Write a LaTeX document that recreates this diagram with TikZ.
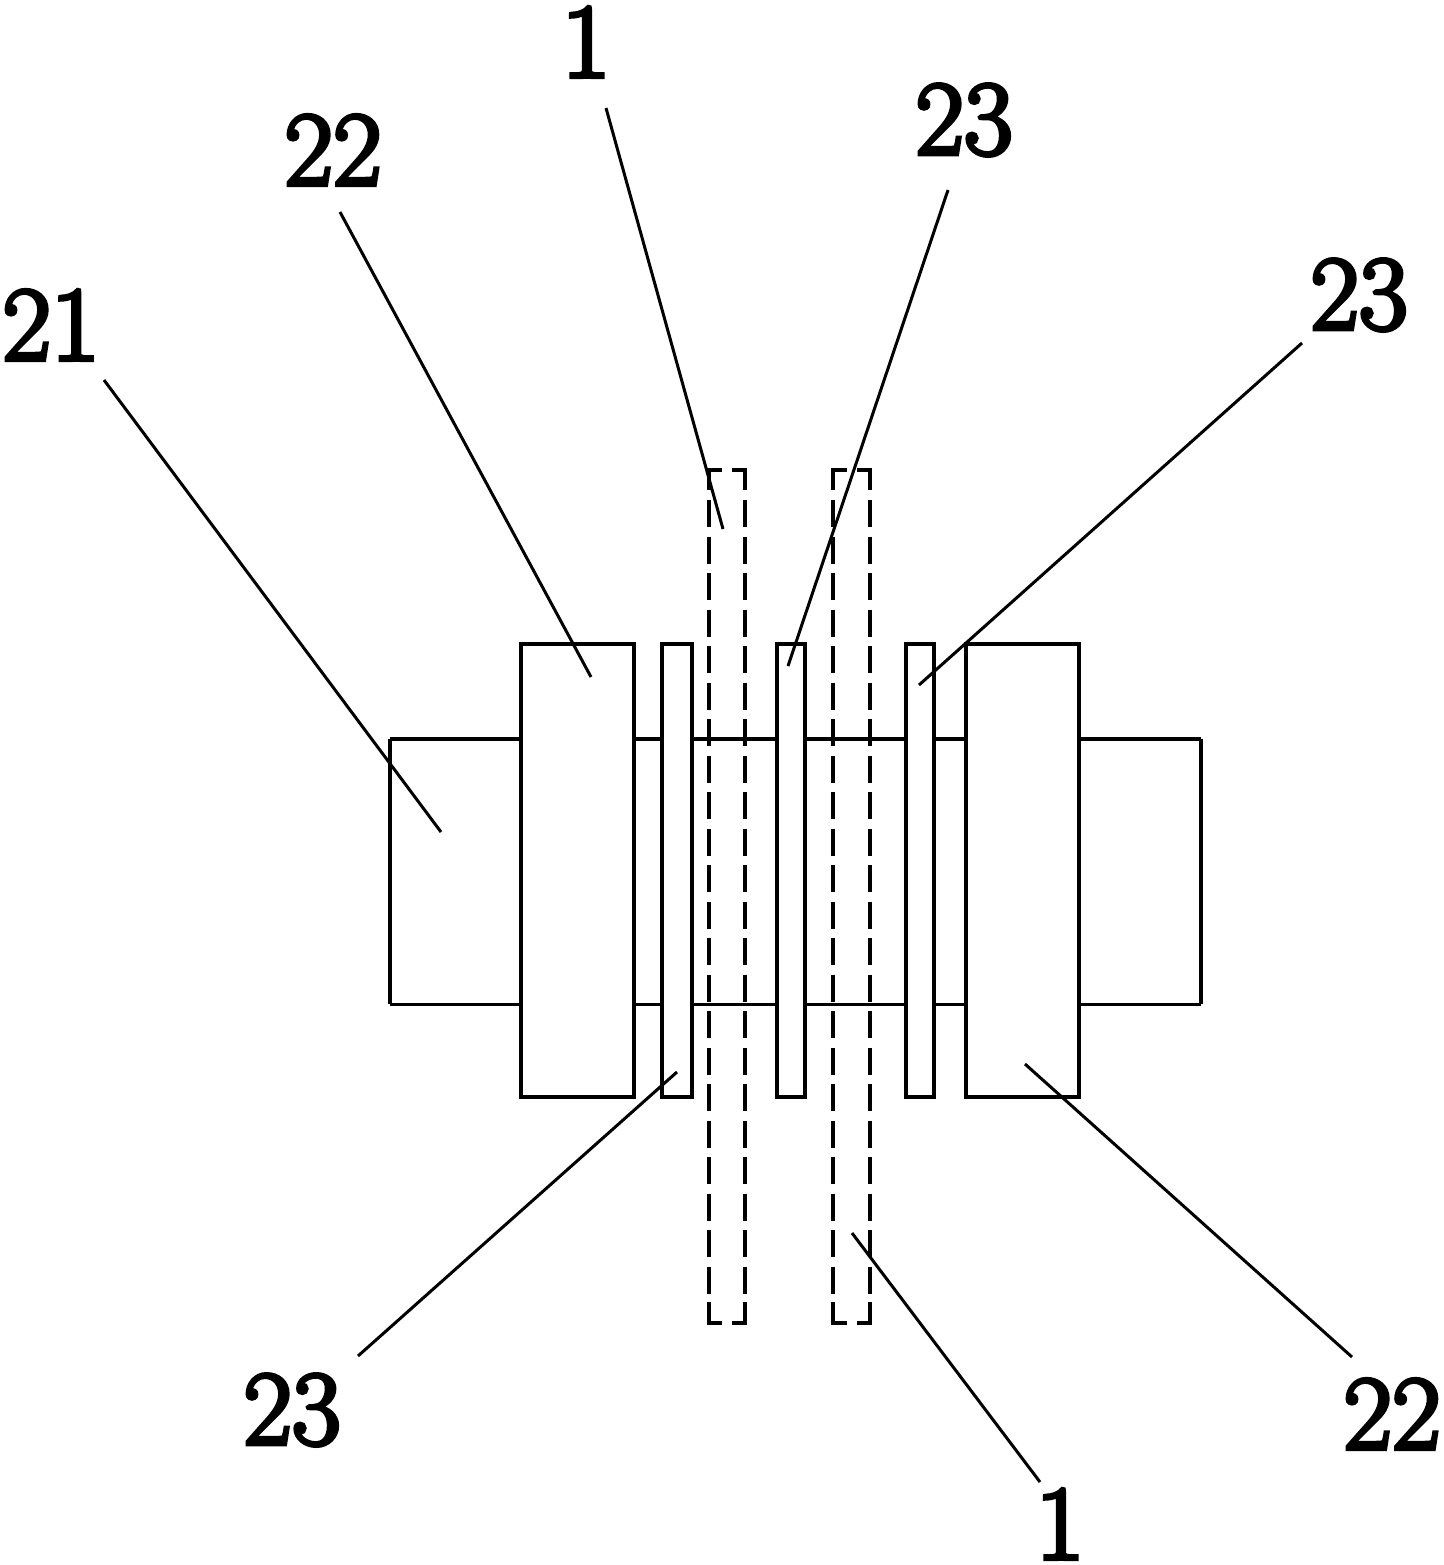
\documentclass[tikz,border=0pt]{standalone}
\usepackage{fontspec}
\newfontfamily\partfont[FakeBold=4]{Latin Modern Roman}
\tikzset{
  partlabel/.style={inner sep=0pt, font=\partfont\fontsize{53}{53}\selectfont},
  partbox/.style={draw, line width=1.75pt, fill=white},
  sheetline/.style={line width=1.75pt, dash pattern=on 27pt*0.5 off 9.5pt*0.5},
  leader/.style={line width=1.5pt}
}
\begin{document}
\begin{tikzpicture}[x=0.5pt, y=-0.5pt]
      \useasboundingbox (0,0) rectangle (1444,1565);
      % shaft
      \draw[line width=1.75pt] (390,739) -- (390,1004);
      \draw[line width=1.75pt] (1201,739) -- (1201,1004);
      \draw[line width=2.3pt] (390,739) -- (1201,739);
      \draw[line width=1.5pt] (390,1004) -- (1201,1004);
      % wheels and plates
      \draw[partbox] (521,644) rectangle (634,1097);
      \draw[partbox] (662,644) rectangle (692,1097);
      \draw[partbox] (777,644) rectangle (805,1097);
      \draw[partbox] (906,644) rectangle (934,1097);
      \draw[partbox] (966,644) rectangle (1079,1097);
      % sheets
      \begin{scope}[line width=1.75pt]
        \draw[sheetline] (709,500) -- (709,1323);
        \draw[sheetline] (745,500) -- (745,1323);
        \draw (722,470) -| (709,490);
        \draw (732,470) -| (745,490);
        \draw (722,1323) -| (709,1302);
        \draw (732,1323) -| (745,1302);
        \draw[sheetline] (833,500) -- (833,1323);
        \draw[sheetline] (870,500) -- (870,1323);
        \draw (847,470) -| (833,490);
        \draw (857,470) -| (870,490);
        \draw (847,1323) -| (833,1302);
        \draw (857,1323) -| (870,1302);
      \end{scope}
      % labels
      \node[partlabel] (l21) at (51,325) {21};
      \node[partlabel] (l22a) at (333,150) {22};
      \node[partlabel] (l1a) at (586,42) {1};
      \node[partlabel] (l23a) at (964,120) {23};
      \node[partlabel] (l23b) at (1359,295) {23};
      \node[partlabel] (l23c) at (292,1410) {23};
      \node[partlabel] (l1b) at (1060,1524) {1};
      \node[partlabel] (l22b) at (1392,1414) {22};
      % leader ends
      \coordinate (t21) at (441,832);
      \coordinate (t22a) at (591,677);
      \coordinate (t1a) at (723,529);
      \coordinate (t23a) at (788,666);
      \coordinate (t23b) at (919,685);
      \coordinate (t23c) at (677,1072);
      \coordinate (t1b) at (852,1233);
      \coordinate (t22b) at (1025,1064);
      \begin{scope}[leader]
        \draw ([shift={(53,55)}]l21.center) -- (t21);
        \draw ([shift={(7,62)}]l22a.center) -- (t22a);
        \draw ([shift={(20,66)}]l1a.center) -- (t1a);
        \draw ([shift={(-16,70)}]l23a.center) -- (t23a);
        \draw ([shift={(-57,48)}]l23b.center) -- (t23b);
        \draw ([shift={(66,-54)}]l23c.center) -- (t23c);
        \draw ([shift={(-20,-42)}]l1b.center) -- (t1b);
        \draw ([shift={(-40,-57)}]l22b.center) -- (t22b);
      \end{scope}
    \end{tikzpicture}
\end{document}
